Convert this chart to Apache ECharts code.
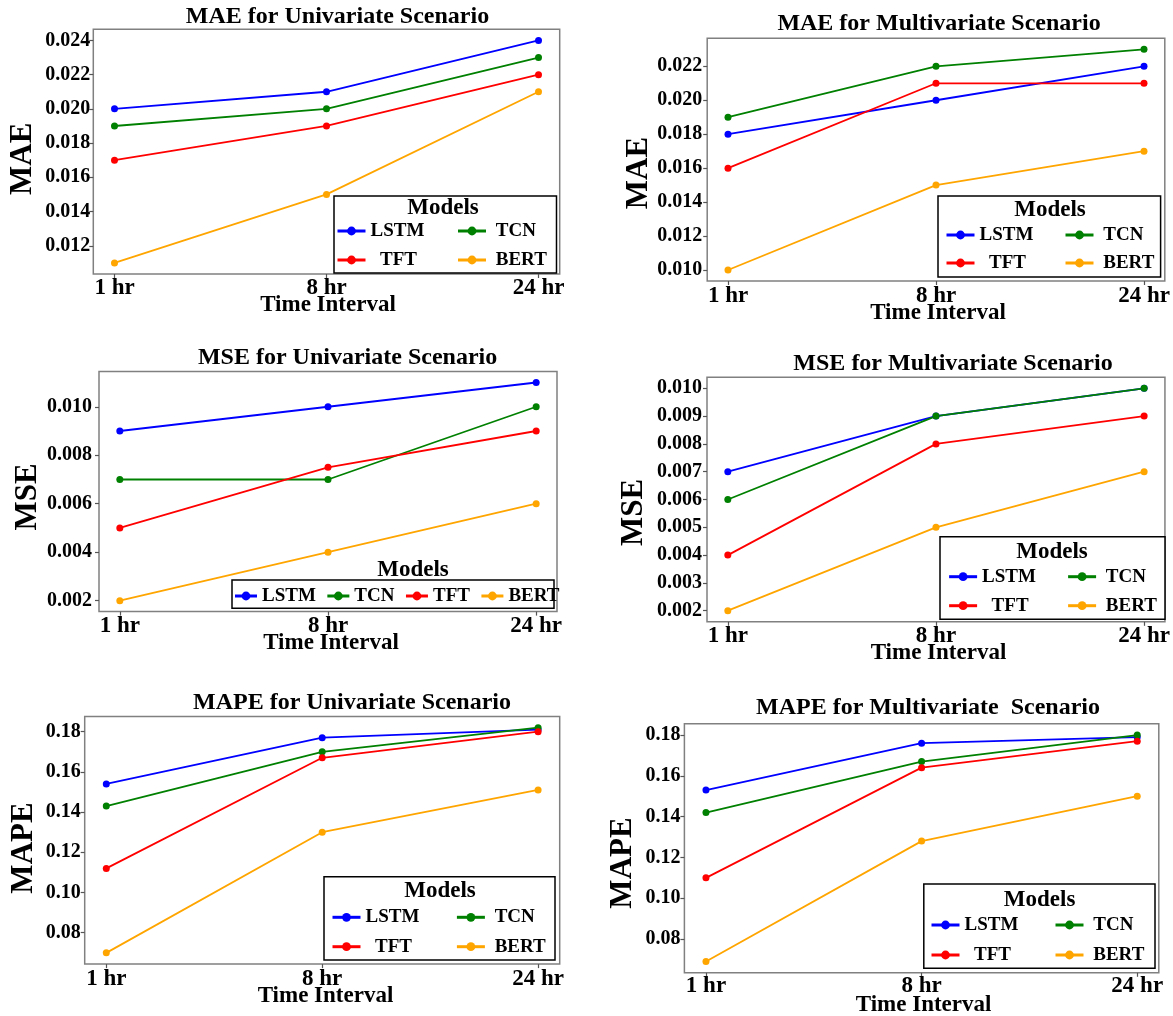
<!DOCTYPE html>
<html><head><meta charset="utf-8">
<script src="https://cdn.jsdelivr.net/npm/echarts@6/dist/echarts.min.js"></script>
<style>html,body{margin:0;padding:0;background:#fff}#c{width:1173px;height:1016px}</style>
</head><body><div id="c"></div>
<script>
// ---- data ----
const models = ['LSTM', 'TCN', 'TFT', 'BERT'];
const intervals = ['1 hr', '8 hr', '24 hr'];
// rows follow the order of `models`, columns follow `intervals`
const maeUni    = [[0.020, 0.021, 0.024], [0.019, 0.020, 0.023], [0.017, 0.019, 0.022], [0.011, 0.015, 0.021]];
const maeMulti  = [[0.018, 0.020, 0.022], [0.019, 0.022, 0.023], [0.016, 0.021, 0.021], [0.010, 0.015, 0.017]];
const mseUni    = [[0.009, 0.010, 0.011], [0.007, 0.007, 0.010], [0.005, 0.0075, 0.009], [0.002, 0.004, 0.006]];
const mseMulti  = [[0.007, 0.009, 0.010], [0.006, 0.009, 0.010], [0.004, 0.008, 0.009], [0.002, 0.005, 0.007]];
const mapeUni   = [[0.154, 0.177, 0.181], [0.143, 0.170, 0.182], [0.112, 0.167, 0.180], [0.070, 0.130, 0.151]];
const mapeMulti = [[0.153, 0.176, 0.179], [0.142, 0.167, 0.180], [0.110, 0.164, 0.177], [0.069, 0.128, 0.150]];
// tick labels
const maeUniTicks   = [0.012, 0.014, 0.016, 0.018, 0.020, 0.022, 0.024];
const maeMultiTicks = [0.010, 0.012, 0.014, 0.016, 0.018, 0.020, 0.022];
const mseUniTicks   = [0.002, 0.004, 0.006, 0.008, 0.010];
const mseMultiTicks = [0.002, 0.003, 0.004, 0.005, 0.006, 0.007, 0.008, 0.009, 0.010];
const mapeUniTicks  = [0.08, 0.10, 0.12, 0.14, 0.16, 0.18];
const mapeMultiTicks= [0.08, 0.10, 0.12, 0.14, 0.16, 0.18];
const titles = ['MAE for Univariate Scenario', 'MAE for Multivariate Scenario', 'MSE for Univariate Scenario',
                'MSE for Multivariate Scenario', 'MAPE for Univariate Scenario', 'MAPE for Multivariate  Scenario'];
const yNames = ['MAE', 'MAE', 'MSE', 'MSE', 'MAPE', 'MAPE'];
const xName = 'Time Interval';
const legendTitle = 'Models';

// ---- styles / layout ----
const colors = { LSTM: '#0000ff', TCN: '#008000', TFT: '#ff0000', BERT: '#ffa500' };
const FF = "'Liberation Serif', 'Times New Roman', serif";
const panels = [
  { values: maeUni, ticks: maeUniTicks, dec: 3, grid: { left: 93.3, top: 29.3, width: 466.4, height: 244.7 },
    yM: 3, xM: 3, tPos: [337.5, 16.7], yPos: [23, 158.8], xPos: [328, 305], box: [334, 196, 222.5, 77], mPos: [443, 208],
    leg: { c1: 336, c2: 456.5, r1: 231, gap: 9 } },
  { values: maeMulti, ticks: maeMultiTicks, dec: 3, grid: { left: 707.2, top: 38.3, width: 457.6, height: 242.7 },
    yM: 5, xM: 4, tPos: [939, 23.5], yPos: [639, 173], xPos: [938, 313.5], box: [938, 196, 222.6, 81], mPos: [1050, 210.5],
    leg: { c1: 945, c2: 1064, r1: 235, gap: 8 } },
  { values: mseUni, ticks: mseUniTicks, dec: 3, grid: { left: 99, top: 371.6, width: 458, height: 240 },
    yM: 7, xM: 3, tPos: [347.6, 357.7], yPos: [28, 497], xPos: [331, 643.3], box: [232, 580, 322, 28.3], mPos: [413, 570],
    leg: { horizontal: true, x: 233.5, r1: 596, gap: 10 } },
  { values: mseMulti, ticks: mseMultiTicks, dec: 3, grid: { left: 707, top: 377.2, width: 461.6, height: 244.6 },
    yM: 5, xM: 3, tPos: [953, 363.3], yPos: [634, 512.5], xPos: [938.5, 653.3], box: [940, 536.7, 225, 82.6], mPos: [1052, 552],
    leg: { c1: 947.6, c2: 1066.6, r1: 576.7, gap: 9 } },
  { values: mapeUni, ticks: mapeUniTicks, dec: 2, grid: { left: 84.7, top: 716.4, width: 475, height: 247.7 },
    yM: 4, xM: 3, tPos: [352, 702.8], yPos: [23.5, 848], xPos: [325.5, 996.5], box: [324, 876.7, 231, 83.3], mPos: [440, 891.5],
    leg: { c1: 331, c2: 455.4, r1: 917.3, gap: 9.4 } },
  { values: mapeMulti, ticks: mapeMultiTicks, dec: 2, grid: { left: 684.4, top: 723.7, width: 474.4, height: 249.1 },
    yM: 4, xM: 2, tPos: [928, 708], yPos: [622.7, 863], xPos: [923.6, 1005], box: [923.8, 884, 231.2, 84.3], mPos: [1039.6, 900],
    leg: { c1: 930, c2: 1054, r1: 925, gap: 10 } }
];

function txt(text, pos, size, rot) {
  return { type: 'text', x: pos[0], y: pos[1], rotation: rot || 0, z: 6,
    style: { text: text, fill: '#000', font: 'bold ' + size + 'px ' + FF,
      textAlign: 'center', textVerticalAlign: 'middle', align: 'center', verticalAlign: 'middle' } };
}

const grids = [], xAxes = [], yAxes = [], series = [], legends = [], graphics = [];
const legText = { fontFamily: FF, fontWeight: 'bold', fontSize: 19, color: '#000', lineHeight: 20 };

panels.forEach((p, i) => {
  const all = p.values.flat();
  const lo = Math.min(...all), hi = Math.max(...all), pad = (hi - lo) * 0.05;
  grids.push(Object.assign({ show: true, borderColor: '#808080', borderWidth: 1.5, backgroundColor: 'transparent' }, p.grid));
  xAxes.push({ gridIndex: i, type: 'value', min: -0.1, max: 2.1, position: 'bottom',
    axisLine: { show: false, onZero: false }, splitLine: { show: false },
    axisTick: { show: true, length: 4, customValues: [0, 1, 2], lineStyle: { color: '#555', width: 1.2 } },
    axisLabel: { customValues: [0, 1, 2], formatter: v => intervals[Math.round(v)], fontFamily: FF, fontWeight: 'bold',
      fontSize: 23, color: '#000', margin: p.xM } });
  yAxes.push({ gridIndex: i, type: 'value', min: lo - pad, max: hi + pad, position: 'left',
    axisLine: { show: false, onZero: false }, splitLine: { show: false },
    axisTick: { show: true, length: 4, customValues: p.ticks, lineStyle: { color: '#555', width: 1.2 } },
    axisLabel: { customValues: p.ticks, formatter: v => v.toFixed(p.dec), fontFamily: FF, fontWeight: 'bold',
      fontSize: 20, color: '#000', margin: p.yM } });
  models.forEach((m, k) => {
    series.push({ type: 'line', name: m, xAxisIndex: i, yAxisIndex: i,
      data: p.values[k].map((v, j) => [j, v]), symbol: 'circle', symbolSize: 7, z: 2,
      lineStyle: { width: 1.8, color: colors[m] }, itemStyle: { color: colors[m] }, animation: false });
  });
  const L = p.leg;
  if (L.horizontal) {
    legends.push({ orient: 'horizontal', left: L.x, top: L.r1 - 10, padding: 0, itemGap: L.gap, itemWidth: 22, itemHeight: 11,
      data: models, textStyle: legText, lineStyle: { width: 3 }, selectedMode: false, z: 6 });
  } else {
    legends.push({ orient: 'vertical', left: L.c1, top: L.r1 - 10, padding: 0, itemGap: L.gap, itemWidth: 28, itemHeight: 11,
      data: ['LSTM', 'TFT'], formatter: n => n === 'TFT' ? '  TFT' : n, textStyle: legText, lineStyle: { width: 3 },
      selectedMode: false, z: 6 });
    legends.push({ orient: 'vertical', left: L.c2, top: L.r1 - 10, padding: 0, itemGap: L.gap, itemWidth: 28, itemHeight: 11,
      data: ['TCN', 'BERT'], formatter: n => ' ' + n, textStyle: legText, lineStyle: { width: 3 },
      selectedMode: false, z: 6 });
  }
  graphics.push({ type: 'rect', z: 3, shape: { x: p.box[0], y: p.box[1], width: p.box[2], height: p.box[3] },
    style: { fill: '#fff', stroke: '#000', lineWidth: 1.5 } });
  graphics.push(txt(titles[i], p.tPos, 24));
  graphics.push(txt(yNames[i], p.yPos, 31, Math.PI / 2));
  graphics.push(txt(xName, p.xPos, 23));
  graphics.push(txt(legendTitle, p.mPos, 23));
});

const chart = echarts.init(document.getElementById('c'), null, { renderer: 'canvas' });
chart.setOption({
  animation: false, backgroundColor: '#fff',
  grid: grids, xAxis: xAxes, yAxis: yAxes, series: series, legend: legends,
  graphic: { elements: graphics }
});
</script></body></html>
